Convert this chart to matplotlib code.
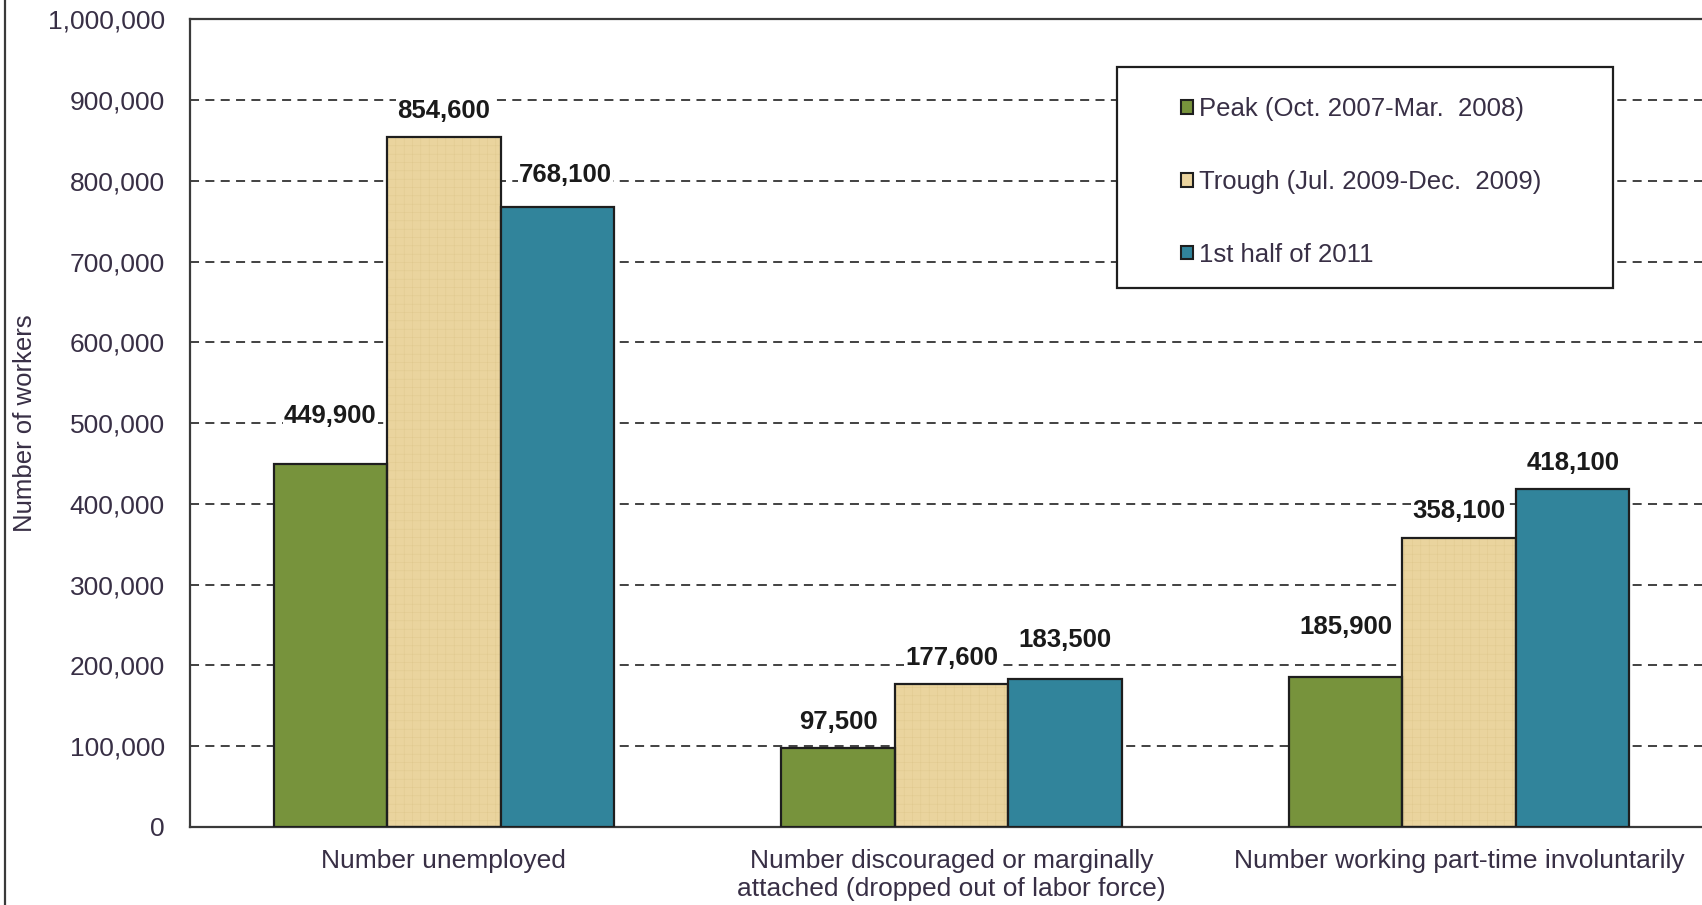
import matplotlib.pyplot as plt
import numpy as np
from matplotlib.patches import Patch, Rectangle
from matplotlib.lines import Line2D
from matplotlib.ticker import FuncFormatter

categories = ['Number unemployed',
              'Number discouraged or marginally\nattached (dropped out of labor force)',
              'Number working part-time involuntarily']
series_names = ['Peak (Oct. 2007-Mar.  2008)',
                'Trough (Jul. 2009-Dec.  2009)',
                '1st half of 2011']
peak = [449900, 97500, 185900]
trough = [854600, 177600, 358100]
first_half_2011 = [768100, 183500, 418100]

colors = ['#77933C', '#EAD49E', '#31849B']
text_color = '#382f45'

# per-label nudges (points) so value labels sit where they were placed by hand
label_dx = [[0, 0, 0], [0, 0, 0], [6, 0, 0]]
label_dy = [[26, 10, 27], [10, 10, 11], [14, 19, 10]]

plt.rcParams['font.family'] = ['Liberation Sans', 'DejaVu Sans']
plt.rcParams['hatch.linewidth'] = 0.35

fig = plt.figure(figsize=(17.02, 9.05), dpi=100)
ax = fig.add_axes([0.1116, 0.0862, 0.8949, 0.8923])

x = np.arange(len(categories))
width = 0.2235
series = [peak, trough, first_half_2011]

for i, vals in enumerate(series):
    pos = x + (i - 1) * width
    if i == 1:
        # linen-like fill: hatch drawn in a slightly darker beige, outline added on top
        ax.bar(pos, vals, width, color=colors[i], edgecolor='#e0c98f',
               hatch='++', linewidth=0, zorder=2)
        ax.bar(pos, vals, width, fill=False, edgecolor='#1e1e1e',
               linewidth=1.6, zorder=3)
    else:
        ax.bar(pos, vals, width, color=colors[i], edgecolor='#1e1e1e',
               linewidth=1.6, zorder=3)
    for j, (px, v) in enumerate(zip(pos, vals)):
        ax.annotate(f'{v:,}', (px, v), xytext=(label_dx[i][j], label_dy[i][j]),
                    textcoords='offset points', ha='center', va='bottom',
                    fontsize=18.5, fontweight='bold', color='#1a1a1a', zorder=4,
                    bbox=dict(facecolor='white', edgecolor='none', pad=1))

ax.set_xlim(-0.5, 2.5)
ax.set_ylim(0, 1000000)
ax.set_yticks(np.arange(0, 1000001, 100000))
ax.yaxis.set_major_formatter(FuncFormatter(lambda v, p: f'{int(v):,}'))
ax.set_xticks(x)
ax.set_xticklabels(categories)
ax.tick_params(axis='y', length=0, pad=18, labelsize=19, labelcolor=text_color)
ax.tick_params(axis='x', length=0, pad=16, labelsize=19, labelcolor=text_color)

for y in np.arange(100000, 1000000, 100000):
    ax.axhline(y, color='#333333', linewidth=1.3, linestyle=(0, (5, 3.5)), zorder=1)

for side in ['top', 'left', 'bottom']:
    ax.spines[side].set_color('#3a3a3a')
    ax.spines[side].set_linewidth(1.6)
ax.spines['right'].set_visible(False)

ax.set_ylabel('Number of workers', fontsize=18.5, color=text_color)
ax.yaxis.set_label_coords(-0.1005, 0.5)

# legend box
ax.add_patch(Rectangle((0.6087, 0.6675), 0.3257, 0.2737, transform=ax.transAxes,
                       facecolor='white', edgecolor='#1e1e1e', linewidth=1.6,
                       zorder=5, clip_on=False))
handles = [Patch(facecolor=c, edgecolor='#1e1e1e', linewidth=1.5) for c in colors]
leg = ax.legend(handles, series_names, loc='upper left',
                bbox_to_anchor=(0.6507, 0.904), frameon=False, fontsize=18.5,
                handlelength=0.45, handleheight=0.45, handletextpad=0.25,
                labelspacing=1.9, borderpad=0, borderaxespad=0)
leg.set_zorder(6)
for t in leg.get_texts():
    t.set_color(text_color)

fig.add_artist(Line2D([0.003, 0.003], [0, 1], transform=fig.transFigure,
                      color='#3a3a3a', linewidth=1.6))

fig.savefig('out.png', dpi=100)
